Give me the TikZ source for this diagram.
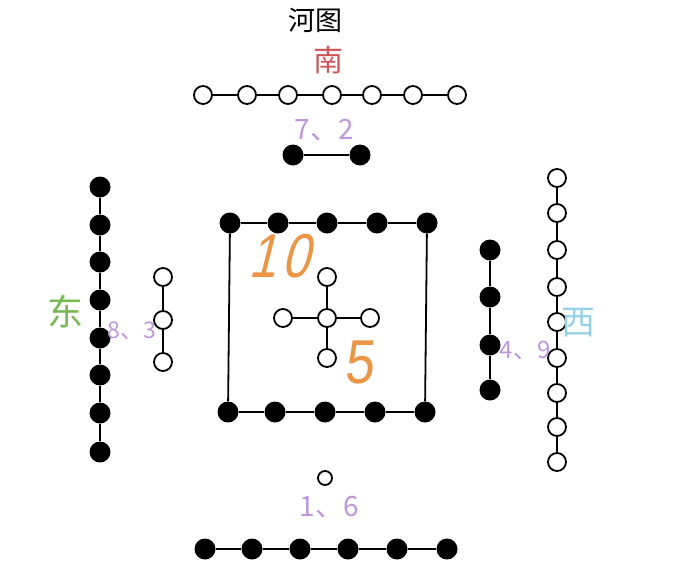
\documentclass[tikz,border=0pt]{standalone}
\usepackage{fontspec}
\setmainfont{Noto Sans CJK SC}
\newfontfamily\handfont{Liberation Sans}
\usepackage{xcolor}
\usepackage{tikz}
\definecolor{nanred}{RGB}{205,85,90}
\definecolor{donggreen}{RGB}{120,185,85}
\definecolor{xiblue}{RGB}{150,210,230}
\definecolor{numpurple}{RGB}{190,150,220}
\definecolor{handorange}{RGB}{235,150,70}

\begin{document}
\begin{tikzpicture}[x=1pt,y=-1pt,
    yang/.style={circle,draw,line width=1.8pt,fill=white,minimum size=18pt,inner sep=0pt},
    yin/.style={circle,fill=black,minimum size=21pt,inner sep=0pt},
    link/.style={line width=1.8pt},
    num/.style={text=numpurple,font=\fontsize{28}{28}\selectfont},
    hand/.style={text=handorange,font=\handfont\fontsize{62}{62}\selectfont},
    ]
    \useasboundingbox (0,0) rectangle (700,560);
	% south: 7 and 2
	\foreach \x [count=\i] in {203,247,288,332,372,413,457}
	    \node[yang] (n\i) at (\x,95) {};
	\foreach \i [evaluate=\i as \j using int(\i+1)] in {1,...,6}
	    \draw[link] (n\i) -- (n\j);
	\node[yin] (m1) at (293,155) {};
	\node[yin] (m2) at (360,155) {};
	\draw[link] (m1) -- (m2);
	% east: 8 and 3
	\foreach \y [count=\i] in {187,225,262,300,338,375,413,452}
	    \node[yin] (d\i) at (100,\y) {};
	\foreach \i [evaluate=\i as \j using int(\i+1)] in {1,...,7}
	    \draw[link] (d\i) -- (d\j);
	\foreach \y [count=\i] in {277,320,362}
	    \node[yang] (e\i) at (163,\y) {};
	\draw[link] (e1) -- (e2);
	\draw[link] (e2) -- (e3);
	% centre: 10 and 5
	\foreach \x [count=\i] in {230,278,327,377,427}
	    \node[yin] (t\i) at (\x,223) {};
	\foreach \x [count=\i] in {228,275,325,375,425}
	    \node[yin] (b\i) at (\x,412) {};
	\foreach \i [evaluate=\i as \j using int(\i+1)] in {1,...,4} {
	    \draw[link] (t\i) -- (t\j);
	    \draw[link] (b\i) -- (b\j);
	}
	\draw[link] (t1) -- (b1);
	\draw[link] (t5) -- (b5);
	\node[yang] (c0) at (327,318) {};
	\node[yang] (cw) at (283,318) {};
	\node[yang] (ce) at (370,318) {};
	\node[yang] (cn) at (327,277) {};
	\node[yang] (cs) at (327,358) {};
	\foreach \k in {cw,ce,cn,cs}
	    \draw[link] (c0) -- (\k);
	% west: 4 and 9
	\foreach \y [count=\i] in {250,297,345,390}
	    \node[yin] (w\i) at (490,\y) {};
	\foreach \i [evaluate=\i as \j using int(\i+1)] in {1,...,3}
	    \draw[link] (w\i) -- (w\j);
	\foreach \y [count=\i] in {178,213,250,287,322,358,393,427,462}
	    \node[yang] (v\i) at (557,\y) {};
	\foreach \i [evaluate=\i as \j using int(\i+1)] in {1,...,8}
	    \draw[link] (v\i) -- (v\j);
	% north: 1 and 6
	\node[yang,minimum size=14pt] (p1) at (325,478) {};
	\foreach \x [count=\i] in {205,252,300,348,397,447}
	    \node[yin] (s\i) at (\x,549) {};
	\foreach \i [evaluate=\i as \j using int(\i+1)] in {1,...,5}
	    \draw[link] (s\i) -- (s\j);
	% labels
	\node[font=\fontsize{27}{27}\selectfont] (title) at (315,20) {河图};
	\node[text=nanred,font=\fontsize{30}{30}\selectfont] (nan) at (328,60) {南};
	\node[text=donggreen,font=\fontsize{36}{36}\selectfont] (dong) at (65,312) {东};
	\node[text=xiblue,font=\fontsize{34}{34}\selectfont] (xi) at (578,323) {西};
	\node[num] (l72) at (324,130) {7、2};
	\node[num,font=\fontsize{23}{23}\selectfont] (l83) at (132,331) {8、3};
	\node[num,font=\fontsize{24}{24}\selectfont] (l49) at (525,350) {4、9};
	\node[num] (l16) at (329,507) {1、6};
	\node[hand,xslant=0.25,xscale=0.8] (ten) at (284,256) {1\kern6pt0};
	\node[hand,xslant=0.1,xscale=0.85] (five) at (361,362) {5};
\end{tikzpicture}
\end{document}
